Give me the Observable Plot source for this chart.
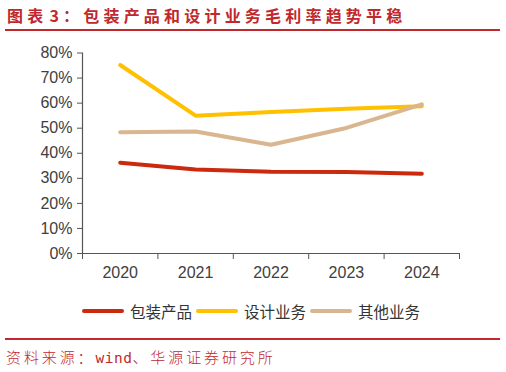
<!DOCTYPE html>
<html>
<head>
<meta charset="utf-8">
<script src="https://cdn.jsdelivr.net/npm/d3@7"></script>
<script src="https://cdn.jsdelivr.net/npm/@observablehq/plot@0.6"></script>
<style>
  html, body { margin: 0; padding: 0; background: #fff; }
  #wrap { position: relative; width: 506px; height: 372px; overflow: hidden; font-family: "Noto Sans CJK SC", "Liberation Sans", sans-serif; }
  #title { position: absolute; left: 7px; top: 4px; font-size: 16px; font-weight: bold; letter-spacing: 4.2px; color: #C0282D; white-space: nowrap; line-height: 22px; }
  #title .num { margin-left: 2px; }
  .rule { position: absolute; left: 5px; width: 495px; background: #C0282D; }
  #chart { position: absolute; left: 0; top: 40px; }
  #legend { position: absolute; left: 82px; top: 300px; display: flex; align-items: center; font-size: 15.5px; color: #333; white-space: nowrap; line-height: 22px; }
  .sw { display: inline-block; width: 42px; height: 4px; border-radius: 2px; margin-right: 6px; }
  .item { display: flex; align-items: center; margin-right: 4px; }
  #source { position: absolute; left: 6px; top: 347px; font-size: 15px; letter-spacing: 2.9px; color: #C0282D; white-space: nowrap; line-height: 20px; font-weight: 300; }
  #source .mono { font-family: "DejaVu Sans Mono", monospace; letter-spacing: 0.5px; font-size: 14.5px; }
</style>
</head>
<body>
<div id="wrap">
  <div id="title">图表<span class="num">3</span>：包装产品和设计业务毛利率趋势平稳</div>
  <div class="rule" style="top:29px;height:2px;"></div>
  <div id="chart"></div>
  <div id="legend"></div>
  <div class="rule" style="top:338px;height:2px;"></div>
  <div id="source">资料来源：<span class="mono">wind</span>、华源证券研究所</div>
</div>
<script>
const years = [2020, 2021, 2022, 2023, 2024];
const seriesNames = ["包装产品", "设计业务", "其他业务"];
const packaging = [0.362, 0.335, 0.326, 0.325, 0.318];
const design = [0.752, 0.550, 0.565, 0.578, 0.588];
const other = [0.484, 0.487, 0.434, 0.501, 0.595];
const colors = ["#CC2A0E", "#FFC000", "#D9B68F"];
const yTicks = [0, 0.1, 0.2, 0.3, 0.4, 0.5, 0.6, 0.7, 0.8];

const seriesValues = [packaging, design, other];
const data = [];
seriesNames.forEach((name, i) => {
  years.forEach((yr, j) => data.push({series: name, year: yr, value: seriesValues[i][j]}));
});
const bounds = years.map(y => y - 0.5).concat([years[years.length - 1] + 0.5]);

const chart = Plot.plot({
  width: 506,
  height: 250,
  marginLeft: 82,
  marginRight: 47,
  marginTop: 12.5,
  marginBottom: 37,
  style: {fontFamily: "'Liberation Sans', Arial, sans-serif", fontSize: "16px", color: "#404040", background: "transparent"},
  x: {domain: [bounds[0], bounds[bounds.length - 1]]},
  y: {domain: [0, 0.8]},
  color: {domain: seriesNames, range: colors},
  marks: [
    Plot.ruleX([bounds[0]], {stroke: "#555", strokeWidth: 1.2}),
    Plot.ruleY([0], {stroke: "#555", strokeWidth: 1.2}),
    Plot.axisY({ticks: yTicks, tickFormat: d3.format(".0%"), tickSize: 5, tickPadding: 5, stroke: "#555", fill: "#404040", label: null}),
    Plot.axisX({ticks: bounds, tickFormat: () => "", tickSize: 6, stroke: "#555", label: null}),
    Plot.axisX({ticks: years, tickFormat: d => String(d), tickSize: 0, tickPadding: 13, fill: "#404040", label: null}),
    Plot.line(data, {x: "year", y: "value", z: "series", stroke: "series", strokeWidth: 4, strokeLinecap: "round", strokeLinejoin: "round"})
  ]
});
document.getElementById("chart").appendChild(chart);

const legend = document.getElementById("legend");
seriesNames.forEach((name, i) => {
  const item = document.createElement("div");
  item.className = "item";
  const sw = document.createElement("span");
  sw.className = "sw";
  sw.style.background = colors[i];
  const t = document.createElement("span");
  t.textContent = name;
  item.appendChild(sw);
  item.appendChild(t);
  legend.appendChild(item);
});
</script>
</body>
</html>
